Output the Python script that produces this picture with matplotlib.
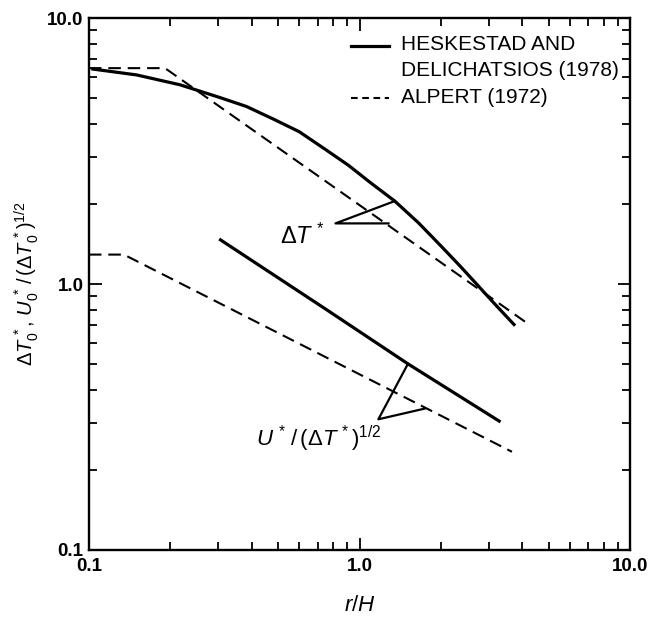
import matplotlib
matplotlib.use("Agg")
import matplotlib.pyplot as plt
from matplotlib.ticker import LogLocator, NullFormatter

plt.rcParams['font.family'] = ['Liberation Sans', 'DejaVu Sans']
plt.rcParams['mathtext.fontset'] = 'custom'
plt.rcParams['mathtext.rm'] = 'Liberation Sans'
plt.rcParams['mathtext.it'] = 'Liberation Sans:italic'
plt.rcParams['mathtext.bf'] = 'Liberation Sans:bold'

# ---- data ----
hd_dT_x = [0.102, 0.15, 0.217, 0.3, 0.382, 0.48, 0.598, 0.75, 0.912, 1.1, 1.35,
           1.65, 2.0, 2.35, 2.77, 3.2, 3.76]
hd_dT_y = [6.44, 6.11, 5.61, 5.05, 4.65, 4.17, 3.74, 3.2, 2.79, 2.4, 2.05,
           1.70, 1.39, 1.17, 0.975, 0.83, 0.697]

al_dT_x = [0.1, 0.191, 4.16]
al_dT_y = [6.48, 6.48, 0.713]

hd_U_x = [0.303, 0.748, 1.51, 3.32]
hd_U_y = [1.476, 0.806, 0.501, 0.303]

al_U_x = [0.1, 0.1346, 3.66]
al_U_y = [1.29, 1.29, 0.234]

tick_vals = [0.1, 1.0, 10.0]
tick_labels = ['0.1', '1.0', '10.0']

legend_labels = ['HESKESTAD AND', 'DELICHATSIOS (1978)', 'ALPERT (1972)']

fig = plt.figure(figsize=(6.48, 6.30), dpi=100)
ax = fig.add_axes([0.1373, 0.127, 0.835, 0.8444])
ax.set_xscale('log')
ax.set_yscale('log')
ax.set_xlim(0.1, 10)
ax.set_ylim(0.1, 10)

dash = (0, (6, 3.3))
ax.plot(hd_dT_x, hd_dT_y, color='black', lw=2.3, solid_capstyle='butt')
ax.plot(al_dT_x, al_dT_y, color='black', lw=1.5, linestyle=dash)
ax.plot(hd_U_x, hd_U_y, color='black', lw=2.3, solid_capstyle='butt')
ax.plot(al_U_x, al_U_y, color='black', lw=1.5, linestyle=dash)

# annotation leaders
ax.plot([1.35, 0.815, 1.28], [2.05, 1.69, 1.69], color='black', lw=1.6)
ax.plot([1.51, 1.174, 1.74], [0.501, 0.310, 0.340], color='black', lw=1.6)
ax.text(0.617, 1.51, r'$\Delta T^{\,*}$', ha='center', va='center', fontsize=17)
ax.text(0.705, 0.262, r'$U^{\,*}\,/\,(\Delta T^{\,*})^{1/2}$', ha='center', va='center', fontsize=16)

# legend (manual)
ax.plot([0.484, 0.555], [0.947, 0.947], transform=ax.transAxes, color='black', lw=2.3)
ax.plot([0.484, 0.555], [0.850, 0.850], transform=ax.transAxes, color='black', lw=1.5,
        linestyle=(0, (3.2, 2.2)))
ax.text(0.577, 0.951, legend_labels[0], transform=ax.transAxes, ha='left', va='center', fontsize=15)
ax.text(0.577, 0.902, legend_labels[1], transform=ax.transAxes, ha='left', va='center', fontsize=15)
ax.text(0.577, 0.850, legend_labels[2], transform=ax.transAxes, ha='left', va='center', fontsize=15)

# ticks
for axis in (ax.xaxis, ax.yaxis):
    axis.set_minor_locator(LogLocator(base=10, subs=range(2, 10)))
    axis.set_minor_formatter(NullFormatter())
ax.set_xticks(tick_vals, labels=tick_labels)
ax.set_yticks(tick_vals, labels=tick_labels)
ax.tick_params(which='both', direction='in', top=True, right=True, width=1.3, colors='black')
ax.tick_params(which='major', length=9, pad=6, labelsize=13.5)
ax.tick_params(which='minor', length=5.5)
for lab in ax.get_xticklabels() + ax.get_yticklabels():
    lab.set_fontweight('bold')
ax.tick_params(axis='y', which='major', pad=4)
for s in ax.spines.values():
    s.set_linewidth(1.7)

ax.set_xlabel(r'$r/H$', fontsize=16)
ax.xaxis.set_label_coords(0.5, -0.085)
ax.set_ylabel(r'$\Delta T_0^{\,*}$, $U_0^{\,*}\,/\,(\Delta T_0^{\,*})^{1/2}$', fontsize=14.5)
ax.yaxis.set_label_coords(-0.088, 0.5)

fig.savefig('out.png', dpi=100)
